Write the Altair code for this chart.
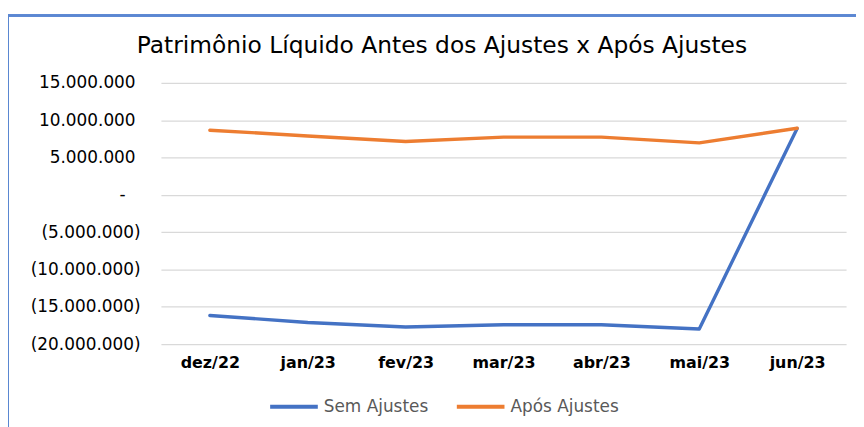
import altair as alt
import pandas as pd

months = ["dez/22", "jan/23", "fev/23", "mar/23", "abr/23", "mai/23", "jun/23"]
sem_ajustes = [-16160000, -17100000, -17700000, -17400000, -17400000, -17970000, 8900000]
apos_ajustes = [8670000, 7900000, 7160000, 7740000, 7740000, 6970000, 8930000]
series_names = ["Sem Ajustes", "Após Ajustes"]
series_colors = ["#4472C4", "#ED7D31"]

rows = []
for i, m in enumerate(months):
    rows.append({"mes": m, "serie": series_names[0], "valor": sem_ajustes[i], "ordem": i})
    rows.append({"mes": m, "serie": series_names[1], "valor": apos_ajustes[i], "ordem": i})
df = pd.DataFrame(rows)

W, H = 690, 263
PAD_L, PAD_T = 154, 74
FONT = "DejaVu Sans"

lines = alt.Chart(df).mark_line(strokeWidth=3.4, strokeCap="round", strokeJoin="round").encode(
    x=alt.X("mes:N", sort=months, title=None,
            axis=alt.Axis(labelAngle=0, labelFontWeight="bold", labelFontSize=16,
                          labelColor="#000000", labelFont=FONT, ticks=False,
                          domain=False, labelPadding=11, grid=False)),
    y=alt.Y("valor:Q", title=None,
            scale=alt.Scale(domain=[-20000000, 15000000], nice=False),
            axis=alt.Axis(values=list(range(-20000000, 15000001, 5000000)), format="(,d",
                          labelExpr="datum.value == 0 ? '-' : datum.label",
                          labelFontSize=17, labelColor="#000000", labelFont=FONT,
                          ticks=False, domain=False,
                          labelPadding={"condition": [
                              {"test": "datum.value == 0", "value": 36},
                              {"test": "datum.value > 0", "value": 26}],
                              "value": 21},
                          gridColor="#D9D9D9", gridWidth=1.3)),
    color=alt.Color("serie:N", sort=series_names,
                    scale=alt.Scale(domain=series_names, range=series_colors),
                    legend=alt.Legend(title=None, orient="none", direction="horizontal",
                                      legendX=108, legendY=300, symbolType="stroke",
                                      symbolStrokeWidth=4, symbolSize=2304,
                                      labelFontSize=17, labelColor="#595959",
                                      labelFont=FONT, columnPadding=20,
                                      labelOffset=4)),
    order="ordem:Q",
)

border_left = alt.Chart(df).mark_rule(color="#5B87D1", strokeWidth=1.5).encode(
    x=alt.value(-PAD_L), y=alt.value(-PAD_T + 6), y2=alt.value(H + 120)
)
border_top = alt.Chart(df).mark_rule(color="#5B87D1", strokeWidth=1.5).encode(
    x=alt.value(-PAD_L), x2=alt.value(W + 40), y=alt.value(-PAD_T + 6)
)

chart = alt.layer(border_left, border_top, lines).properties(
    width=W, height=H,
    title=alt.TitleParams("Patrimônio Líquido Antes dos Ajustes x Após Ajustes",
                          fontSize=23.5, font=FONT, fontWeight="normal",
                          color="#000000", anchor="middle", dx=-62, offset=-43),
    autosize=alt.AutoSizeParams(type="none"),
    padding={"left": PAD_L, "top": PAD_T, "right": 10, "bottom": 90},
).configure(
    locale={"number": {"decimal": ",", "thousands": ".", "grouping": [3], "currency": ["R$", ""]}}
).configure_view(stroke=None)

chart.save("out.html", embed_options={"renderer": "svg", "actions": False})
